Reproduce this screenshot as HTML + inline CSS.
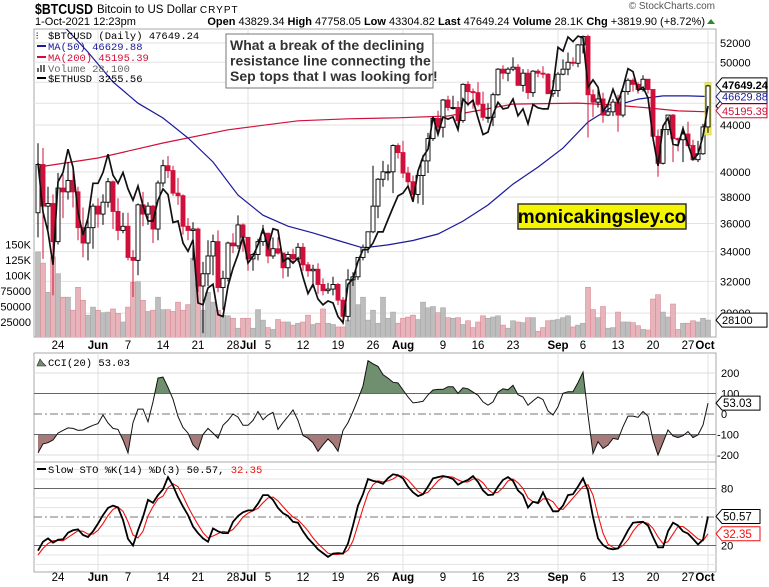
<!DOCTYPE html>
<html><head><meta charset="utf-8"><style>
html,body{margin:0;padding:0;background:#fff;}
svg{display:block;font-family:"Liberation Sans",sans-serif;}
.mono{font-family:"Liberation Mono",monospace;}
</style></head><body>
<svg id="chart" width="769" height="587" viewBox="0 0 769 587" xmlns="http://www.w3.org/2000/svg">
<defs>
<clipPath id="mainClip"><rect x="34" y="29" width="682" height="308"/></clipPath>
<clipPath id="cciUp"><rect x="34" y="353" width="682" height="40.5"/></clipPath>
<clipPath id="cciDn"><rect x="34" y="434.5" width="682" height="30"/></clipPath>
</defs>
<text x="35" y="14" font-size="15" font-weight="bold" textLength="58" lengthAdjust="spacingAndGlyphs">$BTCUSD</text>
<text x="97" y="13" font-size="11.5">Bitcoin to US Dollar <tspan font-size="10" letter-spacing="1">CRYPT</tspan></text>
<text x="715" y="9" font-size="10" fill="#555" text-anchor="end">© StockCharts.com</text>
<text x="35" y="25" font-size="11">1-Oct-2021 12:23pm</text>
<text x="705" y="25" font-size="11" text-anchor="end"><tspan font-weight="bold">Open</tspan> 43829.34 <tspan font-weight="bold">High</tspan> 47758.05 <tspan font-weight="bold">Low</tspan> 43304.82 <tspan font-weight="bold">Last</tspan> 47649.24 <tspan font-weight="bold">Volume</tspan> 28.1K <tspan font-weight="bold">Chg</tspan> +3819.90 (+8.72%)</text>
<polygon points="707,24 715,24 711,19" fill="#2a8a2a"/>
<g id="g"></g>
</svg>
<script>
const closes=[40.6,37.3,37.5,34.7,38.7,38.4,39.3,38.4,35.7,34.6,35.7,37.3,36.7,37.6,39.2,36.9,35.5,35.8,33.6,33.4,37.4,36.7,37.3,35.6,39.1,40.5,40.1,38.3,38.1,35.8,35.5,35.6,31.7,32.5,33.7,34.7,31.6,32.2,34.6,34.4,35.9,35.0,33.5,33.8,34.7,35.3,33.7,34.2,33.9,32.9,33.8,33.5,34.3,33.1,32.7,32.8,31.8,31.4,31.5,31.8,30.8,29.8,32.1,32.3,33.6,34.3,35.4,37.3,39.4,40.0,40.0,42.2,41.6,39.9,39.2,38.2,39.7,40.9,42.8,44.6,43.8,46.3,45.6,45.6,44.4,47.8,47.1,47.0,45.9,44.7,44.7,46.8,49.3,48.9,49.3,49.5,47.7,48.9,47.0,49.1,48.9,48.8,46.9,47.2,48.8,49.3,50.0,49.9,51.8,52.7,46.8,46.1,46.4,44.9,45.2,46.1,44.9,47.1,48.2,47.8,47.3,48.3,47.3,43.0,40.7,43.6,44.9,42.8,42.7,43.2,42.2,41.0,41.5,43.83,47.65];
const highs=[42.4,42.0,38.8,38.2,39.9,39.8,40.8,40.4,38.8,37.2,36.4,37.5,37.9,38.2,39.5,39.3,37.9,36.8,36.8,34.1,37.5,38.4,37.6,37.4,39.3,41.0,41.3,40.5,39.5,38.2,36.4,36.1,35.7,33.3,34.8,35.2,35.5,32.7,34.7,35.3,36.6,36.0,35.0,33.9,34.9,35.9,35.3,35.0,35.0,33.9,34.0,34.2,34.6,34.6,33.3,33.1,33.2,32.2,31.9,32.3,31.9,31.0,32.8,32.6,33.6,34.5,35.4,40.5,39.5,40.9,40.6,42.3,42.4,42.6,40.4,39.7,39.9,41.4,43.3,44.7,45.3,46.4,46.7,46.7,46.2,47.9,48.1,47.4,48.0,47.1,46.0,47.0,49.4,49.7,49.5,50.5,49.8,49.3,49.3,49.2,49.3,49.6,48.9,48.2,49.0,50.3,51.0,50.5,51.9,52.8,52.9,47.3,47.3,47.0,45.9,46.4,46.8,47.2,48.4,48.4,48.0,48.7,48.3,47.3,43.6,44.0,44.9,45.0,42.9,43.9,44.3,42.7,42.6,44.1,47.76];
const lows=[35.0,33.5,35.3,31.1,34.5,36.4,37.8,37.2,34.8,33.6,33.4,34.2,35.7,35.9,37.2,35.6,34.8,35.3,33.4,31.0,32.4,35.8,35.9,34.6,34.8,38.8,39.5,38.1,37.4,35.2,34.8,33.4,31.3,28.8,31.7,32.4,31.3,30.2,32.0,33.9,34.2,34.0,32.7,32.7,33.4,34.4,33.2,33.5,33.8,32.2,32.3,33.2,33.3,32.7,32.3,31.6,31.2,31.1,31.2,31.1,30.5,29.3,29.5,31.7,32.1,33.4,33.9,35.3,36.4,38.8,39.3,38.3,41.1,39.5,38.7,37.6,37.5,37.4,39.9,42.6,43.4,42.9,45.3,45.4,43.8,44.2,45.7,45.5,45.7,44.4,44.2,43.9,46.7,48.3,48.1,49.1,47.7,47.1,46.4,46.6,48.5,48.4,46.9,46.6,46.6,48.7,48.7,49.6,49.5,50.9,42.9,44.7,45.6,44.2,44.8,44.8,43.4,44.7,46.8,47.1,46.9,47.1,46.9,42.6,39.6,40.6,43.1,40.8,41.7,40.8,42.1,40.9,40.8,41.4,43.3];
const firstOpen=36.8;
const ethCloses=[2780,2430,2300,2100,2640,2710,2890,2750,2430,2280,2390,2630,2630,2710,2850,2690,2630,2710,2590,2510,2610,2470,2370,2370,2510,2590,2550,2360,2370,2230,2180,2250,1890,1880,1970,1990,1830,1820,1980,2080,2160,2270,2110,2150,2220,2320,2200,2320,2310,2120,2140,2110,2140,2030,1940,1990,1910,1880,1900,1890,1820,1790,1990,2020,2120,2190,2190,2230,2300,2300,2380,2460,2540,2560,2610,2500,2720,2830,2890,3160,3010,3160,3140,3160,3050,3320,3270,3310,3150,3010,3030,3180,3290,3230,3240,3320,3170,3230,3100,3270,3240,3230,3230,3430,3830,3790,3940,3890,3950,3930,3430,3500,3430,3210,3270,3410,3290,3430,3610,3580,3400,3430,3330,2980,2760,3080,3150,2930,2920,3060,2930,2810,2850,3000,3256];
const volumes=[138,120,73,130,103,65,65,44,81,60,36,49,44,40,41,46,39,25,49,89,90,60,42,44,65,45,45,42,57,44,53,128,89,44,73,57,44,36,35,31,15,31,31,15,45,28,16,13,29,25,25,20,23,25,36,21,23,46,23,21,17,17,28,97,53,65,28,44,23,65,31,41,23,31,33,36,29,57,48,50,40,48,32,31,32,21,27,16,25,35,31,33,35,20,15,27,25,24,32,32,10,16,27,28,29,32,35,17,20,23,81,45,32,50,15,16,41,25,25,24,19,13,12,62,69,41,33,54,13,23,23,27,25,31,28.1];
const ma50Idx=[0,5,10,15,20,25,30,35,40,45,50,55,60,65,70,75,80,85,90,95,100,105,110,115,120,125,130,134];
const ma50Vals=[56.2,53.9,51.05,48.03,46.0,44.63,42.85,40.81,38.15,36.62,35.81,35.32,34.78,34.26,34.47,34.78,35.24,36.18,37.39,39.01,40.39,41.98,44.27,45.7,46.39,46.69,46.69,46.63];
const ma200Idx=[0,12,25,38,52,62,72,82,95,108,115,122,128,134];
const ma200Vals=[40.39,41.14,42.42,43.57,44.38,44.56,44.65,44.82,45.92,46.01,45.83,45.56,45.28,45.2];
const cci=[-190,-146,-140,-127,-93,-80,-68,-70,-80,-78,-66,-55,-47,-5,-44,-70,-75,-127,-190,-42,24,24,-38,59,175,180,130,72,-12,-66,-93,-150,-175,-100,-70,-93,-118,-55,-31,0,-15,-55,-55,-31,12,-28,-5,8,-75,-42,-12,20,-31,-105,-118,-140,-182,-150,-122,-146,-182,-80,-42,12,72,137,260,245,232,192,175,155,151,117,83,54,57,62,93,117,120,120,133,133,101,128,123,107,91,59,43,59,107,123,118,140,94,83,43,64,83,70,15,-5,35,101,109,109,153,204,-5,-192,-135,-168,-151,-119,-124,-62,-10,-10,-16,12,-10,-127,-200,-140,-78,-107,-115,-106,-86,-115,-102,-54,53.03];
const stoK=[14.5,24,27.5,23,26,26.5,33.5,36,37,31,29,35,43,52,59.5,62,60,47,27,20,36,50,68,65,73,79,92,83,71,61,52,40,33,27.5,24,38,35,33,33,45,51,55,57,57,64,73,73,68,59.5,54,51,45,44,35,27.5,22,16,12,8,11.5,12,11.5,22,41,62,74,90,88,87,85,91,95,94,90.6,82,76,72,74,82,90.6,92,93,92,90,84,87,89,93,87,78,73,73.5,82,89,92,88,78,73,60,66,65,76,65,56,56,62,73,74,82,90.6,78,50,27.5,20.5,17,16,17,26,36,44,44.5,45,41,29,18,18,35,44,41,35,32.5,27,21,26,50.57];
const stoD=[10,17,22,25,25.5,25,28.5,32,35.5,35,32,32,36,43,51.5,58,60.5,56,45,31,28,35,51,61,69,72,81,85,82,72,61,51,42,33.5,28,30,32.5,35,34,37,43,50,54,56.5,59,65,70,71,67,61,55,50,47,41.5,35.5,28,22,17,12,10.5,10.5,11.5,15,25,42,59,75,84,88,87,88,90,93.5,93,89,83,77,74,76,82,88,92,92.5,92,89,87,87,90,90,86,79,75,76,81,88,90,86,80,70,66,64,69,69,66,59,58,64,70,76,82,84,73,52,33,21.5,18,16.5,20,26,35,41.5,44.5,43.5,38,29,22,24,32,40,40,36,31.5,27,25,32.35];
const priceTicks=[30000,32000,34000,36000,38000,40000,44000,50000,52000];
const volTicks=[25000,50000,75000,100000,125000,150000];
const volTickLabels=['25000','50000','75000','100K','125K','150K'];
const cciTicks=[200,100,0,-100,-200];
const stoTicks=[80,20];
const dateIdx=[4,12,18,25,32,39,42,46,53,60,67,73,81,88,95,104,109,116,123,130,134];
const dateLabels=['24','Jun','7','14','21','28','Jul','5','12','19','26','Aug','9','16','23','Sep','6','13','20','27','Oct'];
const monthIdx=[12,42,73,104,134];

const NS='http://www.w3.org/2000/svg';
const G=document.getElementById('g');
function mk(tag,attrs,parent){const e=document.createElementNS(NS,tag);for(const k in attrs)e.setAttribute(k,attrs[k]);(parent||G).appendChild(e);return e;}
const X=i=>38+5*i;
const PY=p=>43+491*Math.log(52/p);
const EY=p=>37+362*Math.log(3940/p);
const VY=v=>337.5-v*0.62;
const CY=v=>414-v*0.205;
const SY=v=>517-(v-50)*0.95;
const L=34,R=716;

let e;
e=mk('rect',{x:L,y:29,width:R-L,height:308,fill:'#fff',stroke:'#aaa'});

e=mk('rect',{x:L,y:353,width:R-L,height:109,fill:'#fff',stroke:'#aaa'});

e=mk('rect',{x:L,y:462,width:R-L,height:110,fill:'#fff',stroke:'#aaa'});

[46000,48000].concat(priceTicks).forEach(p=>{mk('line',{x1:L,x2:R,y1:PY(p/1000),y2:PY(p/1000),stroke:'#e2e2e2'});});
monthIdx.forEach(i=>{[[29,337],[353,462],[462,572]].forEach(r=>mk('line',{x1:X(i),x2:X(i),y1:r[0],y2:r[1],stroke:'#e0e0e0'}));});
for(let v=0;v<=100;v+=10){if(v!==20&&v!==50&&v!==80)mk('line',{x1:L,x2:R,y1:SY(v),y2:SY(v),stroke:'#e6e6e6'});}
[200,-200].forEach(v=>mk('line',{x1:L,x2:R,y1:CY(v),y2:CY(v),stroke:'#ddd'}));

const volG=mk('g',{'clip-path':'url(#mainClip)'});

volumes.forEach((v,i)=>{const down=i>0?closes[i]<closes[i-1]:false;
 const r=mk('rect',{x:X(i)-2.5,y:VY(v),width:5,height:337.5-VY(v)+1,fill:down?'#e8b4bb':'#bdbdbd',stroke:down?'#d98a95':'#a8a8a8','stroke-width':0.6},volG);
 });

const clipG=mk('g',{'clip-path':'url(#mainClip)'});
function pl(idx,vals,f){return idx.map((i,k)=>X(i).toFixed(1)+','+f(vals[k]).toFixed(1)).join(' ');}
e=mk('polyline',{points:pl(ma200Idx,ma200Vals,PY),fill:'none',stroke:'#d0103a','stroke-width':1.2},clipG);

e=mk('polyline',{points:pl(ma50Idx,ma50Vals,PY),fill:'none',stroke:'#1a1a9a','stroke-width':1.2},clipG);


closes.forEach((c,i)=>{const o=i===0?firstOpen:closes[i-1];const up=c>=o;const last=i===closes.length-1;
 const col=up?'#000':'#d0103a';
 if(last){const hl=mk('rect',{x:X(i)-3,y:PY(highs[i])-2,width:6,height:PY(lows[i])-PY(highs[i])+4,fill:'#f4f060',stroke:'#d8d040','stroke-width':0.8},clipG);
  }
 const w=mk('line',{x1:X(i),x2:X(i),y1:PY(highs[i]),y2:PY(lows[i]),stroke:col,'stroke-width':1},clipG);
 
 const top=PY(Math.max(o,c)),bot=PY(Math.min(o,c));
 const b=mk('rect',{x:X(i)-2,y:top,width:4,height:Math.max(1,bot-top),fill:up?'#fff':'#d0103a',stroke:col,'stroke-width':0.9},clipG);
 
});

e=mk('polyline',{points:ethCloses.map((v,i)=>X(i)+','+EY(v).toFixed(1)).join(' '),fill:'none',stroke:'#111','stroke-width':1.7},clipG);


priceTicks.forEach(p=>{const t=mk('text',{x:720,y:PY(p/1000)+4,'font-size':11});t.textContent=p;
 });
volTicks.forEach((v,k)=>{const t=mk('text',{x:31,y:VY(v/1000)+4,'font-size':11,'text-anchor':'end'});t.textContent=volTickLabels[k];
 });

function tag(y,txt,col,bold,name){const g=mk('g',{});
 mk('polygon',{points:`716,${y} 722,${y-7} 767,${y-7} 767,${y+7} 722,${y+7}`,fill:'#fff',stroke:col,'stroke-width':1},g);
 const t=mk('text',{x:722,y:y+4,'font-size':11,fill:col,'font-weight':bold?'bold':'normal'},g);t.textContent=txt;}
tag(EY(ethCloses[ethCloses.length-1]),'3255.56','#000',false,'eth-value-tag');
tag(PY(ma200Vals[ma200Vals.length-1])-1,'45195.39','#d0103a',false,'ma200-value-tag');
tag(PY(ma50Vals[ma50Vals.length-1]),'46629.88','#1a1a9a',false,'ma50-value-tag');
tag(PY(closes[closes.length-1])-1,'47649.24','#000',true,'price-value-tag');
tag(VY(volumes[volumes.length-1]),'28100','#000',false,'volume-value-tag');

[349,581].forEach(yy=>dateIdx.forEach((i,k)=>{const bold=isNaN(+dateLabels[k]);
 const t=mk('text',{x:X(i)-(k===dateIdx.length-1?3:0),y:yy,'font-size':11.5,'text-anchor':'middle','font-weight':bold?'bold':'normal'});t.textContent=dateLabels[k];
 }));

const cciPts=cci.map((v,i)=>X(i)+','+CY(v).toFixed(1)).join(' ');
const N=cci.length-1;
e=mk('polygon',{points:`${X(0)},${CY(100)} ${cciPts} ${X(N)},${CY(100)}`,fill:'#6f8f6f',stroke:'none','clip-path':'url(#cciUp)'});

e=mk('polygon',{points:`${X(0)},${CY(-100)} ${cciPts} ${X(N)},${CY(-100)}`,fill:'#a57a78',stroke:'none','clip-path':'url(#cciDn)'});

[100,-100].forEach(v=>mk('line',{x1:L,x2:R,y1:CY(v),y2:CY(v),stroke:'#666'}));
mk('line',{x1:L,x2:R,y1:CY(0),y2:CY(0),stroke:'#777','stroke-dasharray':'8,3,2,3'});
e=mk('polyline',{points:cciPts,fill:'none',stroke:'#111','stroke-width':1});

cciTicks.forEach(v=>{const t=mk('text',{x:v<0?717:721,y:CY(v)+4,'font-size':11});t.textContent=v;
 });
(function(){const y=CY(cci[N]);const g=mk('g',{});
 mk('polygon',{points:`716,${y} 722,${y-7} 760,${y-7} 760,${y+7} 722,${y+7}`,fill:'#fff',stroke:'#000'},g);
 const t=mk('text',{x:723,y:y+4,'font-size':11.5},g);t.textContent='53.03';})();

[80,20].forEach(v=>mk('line',{x1:L,x2:R,y1:SY(v),y2:SY(v),stroke:'#666'}));
mk('line',{x1:L,x2:R,y1:SY(50),y2:SY(50),stroke:'#777','stroke-dasharray':'8,3,2,3'});
e=mk('polyline',{points:stoD.map((v,i)=>X(i)+','+SY(v).toFixed(1)).join(' '),fill:'none',stroke:'#f01010','stroke-width':1.1});

e=mk('polyline',{points:stoK.map((v,i)=>X(i)+','+SY(v).toFixed(1)).join(' '),fill:'none',stroke:'#000','stroke-width':1.8});

stoTicks.forEach(v=>{const t=mk('text',{x:721,y:SY(v)+4,'font-size':11});t.textContent=v;
 });
[[stoK[stoK.length-1],'50.57','#000','sto-k-value-tag'],[stoD[stoD.length-1],'32.35','#f01010','sto-d-value-tag']].forEach(a=>{
 const y=SY(a[0]);const g=mk('g',{});
 mk('polygon',{points:`716,${y} 722,${y-7} 760,${y-7} 760,${y+7} 722,${y+7}`,fill:'#fff',stroke:a[2]},g);
 const t=mk('text',{x:723,y:y+4,'font-size':11.5,fill:a[2]},g);t.textContent=a[1];});

function leg(y,txt,col,swatch,name){const t=mk('text',{x:48,y:y,'font-size':10.5,fill:col,class:'mono'});t.textContent=txt;
 
 if(swatch)mk('line',{x1:37,x2:46,y1:y-4,y2:y-4,stroke:swatch,'stroke-width':2});}
leg(39,'$BTCUSD (Daily) 47649.24','#000',null,'legend-price');
mk('text',{x:36,y:39,'font-size':9,'font-weight':'bold'}).textContent='⫶';
leg(50,'MA(50) 46629.88','#1a1a9a','#1a1a9a','legend-ma50');
leg(61,'MA(200) 45195.39','#d0103a','#d0103a','legend-ma200');
leg(72,'Volume 28,100','#666',null,'legend-volume');
[0,1,2].forEach(k=>mk('rect',{x:37+k*3,y:72-7+(k===0?3:0),width:2,height:7-(k===0?3:0),fill:'#666'}));
leg(82,'$ETHUSD 3255.56','#000','#000','legend-ethusd');
e=mk('text',{x:48,y:366,'font-size':10.5,class:'mono'});e.textContent='CCI(20) 53.03';

mk('polygon',{points:'37,366 40,359 43,363 46,366',fill:'#6f8f6f',stroke:'#222','stroke-width':0.6});
e=mk('text',{x:48,y:473,'font-size':10.5,class:'mono'});e.innerHTML='Slow STO %K(14) %D(3) 50.57, <tspan fill="#f01010">32.35</tspan>';

mk('line',{x1:37,x2:46,y1:469,y2:469,stroke:'#000','stroke-width':2});

const ag=mk('g',{});
mk('rect',{x:226,y:34,width:207,height:54,fill:'#fff',stroke:'#777','stroke-width':1},ag);
['What a break of the declining','resistance line connecting the','Sep tops that I was looking for!'].forEach((s,k)=>{
 const t=mk('text',{x:230,y:50+k*15.5,'font-size':14,'font-weight':'bold',fill:'#333'},ag);t.textContent=s;});
const wg=mk('g',{});
mk('rect',{x:518,y:204,width:168,height:25,fill:'#f5f500',stroke:'#333','stroke-width':1.5},wg);
e=mk('text',{x:602,y:223,'font-size':19,'font-weight':'bold','text-anchor':'middle',fill:'#000'},wg);e.textContent='monicakingsley.co';
</script>
</body></html>
